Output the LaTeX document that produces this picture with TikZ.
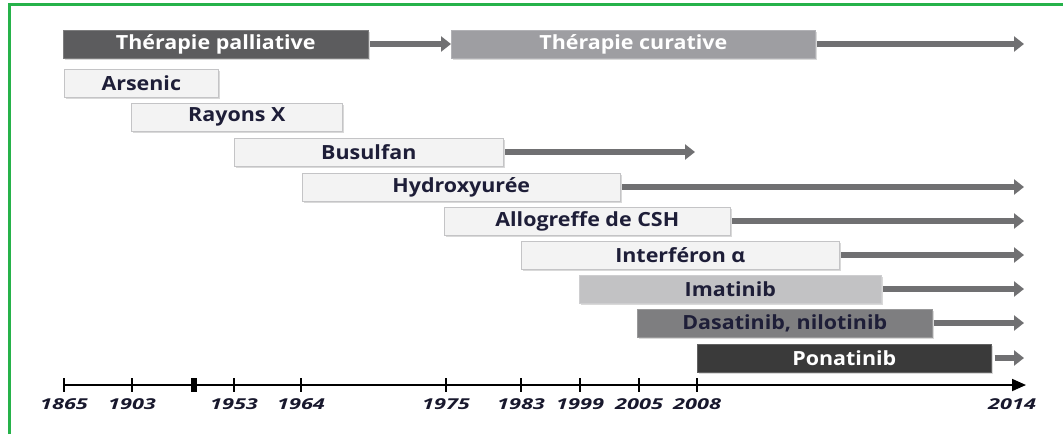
\documentclass[tikz,border=0pt]{standalone}
\usepackage{fontspec}
\setmainfont{Open Sans}[FakeStretch=1.1]
\newfontfamily\yearfont{Open Sans}[FakeStretch=1.45]
\usetikzlibrary{arrows.meta,positioning,shadows}
\definecolor{FrameGreen}{RGB}{38,178,74}
\definecolor{PalliativeGray}{RGB}{92,92,94}
\definecolor{CurativeGray}{RGB}{158,158,162}
\definecolor{PaleGray}{RGB}{243,243,243}
\definecolor{EdgeGray}{RGB}{196,196,198}
\definecolor{ImatinibGray}{RGB}{194,194,196}
\definecolor{DasatinibGray}{RGB}{126,126,128}
\definecolor{PonatinibGray}{RGB}{58,58,58}
\definecolor{ArrowGray}{RGB}{112,112,114}
\definecolor{InkNavy}{RGB}{30,30,56}

\begin{document}
\begin{tikzpicture}[x=1pt, y=-1pt,
    bar/.style={anchor=west, minimum height=28pt, inner sep=0pt, draw=EdgeGray, line width=0.6pt,
        font=\fontsize{19.5}{22}\selectfont\bfseries,
        drop shadow={shadow xshift=1.2pt, shadow yshift=-1.5pt, opacity=0.3}},
    palebar/.style={bar, fill=PaleGray, text=InkNavy},
    darkbar/.style={bar, fill=#1, text=white, draw=#1!80!white},
    midbar/.style={bar, fill=#1, text=InkNavy, draw=#1!80!white},
    flow/.style={draw=ArrowGray, line width=6pt, shorten <=1.5pt, -{Triangle[length=10pt,width=15pt]}},
    axisline/.style={draw=black, line width=1.8pt, -{Triangle[length=14pt,width=12pt]}},
    tickmark/.style={draw=black, line width=2pt},
    year/.style={font=\yearfont\fontsize{15}{17}\selectfont\bfseries\itshape, text=InkNavy!80!black, inner sep=1pt},
    frameline/.style={draw=FrameGreen, line width=3pt}
]
\useasboundingbox (0,0) rectangle (1063,434);
\draw[frameline] (9,434) -- (9,4) -- (1063,4);

% phases
\node[darkbar=PalliativeGray, minimum width=305pt] (palliative) at (63,44) {Thérapie palliative};
\node[darkbar=CurativeGray, minimum width=364pt] (curative) at (451,44) {Thérapie curative};

% treatments
\node[palebar, minimum width=154pt] (arsenic) at (64,83) {Arsenic};
\node[palebar, minimum width=211pt] (rayons) at (131,117) {Rayons X};
\node[palebar, minimum width=269pt] (busulfan) at (234,152) {Busulfan};
\node[palebar, minimum width=318pt] (hydroxy) at (302,187) {Hydroxyurée};
\node[palebar, minimum width=286pt] (allogreffe) at (444,221) {Allogreffe de CSH};
\node[palebar, minimum width=318pt] (interferon) at (521,255) {Interféron α};
\node[midbar=ImatinibGray, minimum width=302pt] (imatinib) at (579,289) {Imatinib};
\node[midbar=DasatinibGray, minimum width=295pt] (dasatinib) at (637,323) {Dasatinib, nilotinib};
\node[darkbar=PonatinibGray, minimum width=294pt] (ponatinib) at (697,358) {Ponatinib};

% arrows
\coordinate (farend) at (1024,0);
\coordinate (busulfanend) at (695,152);
\draw[flow] (palliative.east) -- (curative.west);
\draw[flow] (curative.east) -- (curative.east -| farend);
\draw[flow] (busulfan.east) -- (busulfanend);
\foreach \drug in {hydroxy,allogreffe,interferon,imatinib,dasatinib}
    \draw[flow] (\drug.east) -- (\drug.east -| farend);
\draw[flow, shorten <=3pt] (ponatinib.east) -- (ponatinib.east -| farend);

% time axis
\coordinate (axisstart) at (64,385);
\coordinate (axisend) at (1026,385);
\draw[axisline] (axisstart) -- (axisend);
\foreach \x/\yr in {64/1865,132/1903,234/1953,301/1964,446/1975,521/1983,580/1999,639/2005,697/2008} {
    \coordinate (t\yr) at (\x,385);
    \draw[tickmark] ([yshift=7pt]t\yr) -- ([yshift=-7pt]t\yr);
    \node[year, below=12pt of t\yr] {\yr};
}
\node[fill=black, minimum width=6pt, minimum height=14pt, inner sep=0pt] (gap) at (194,385) {};
\coordinate (t2014) at (1012,385);
\node[year, below=12pt of t2014] {2014};
\end{tikzpicture}
\end{document}
